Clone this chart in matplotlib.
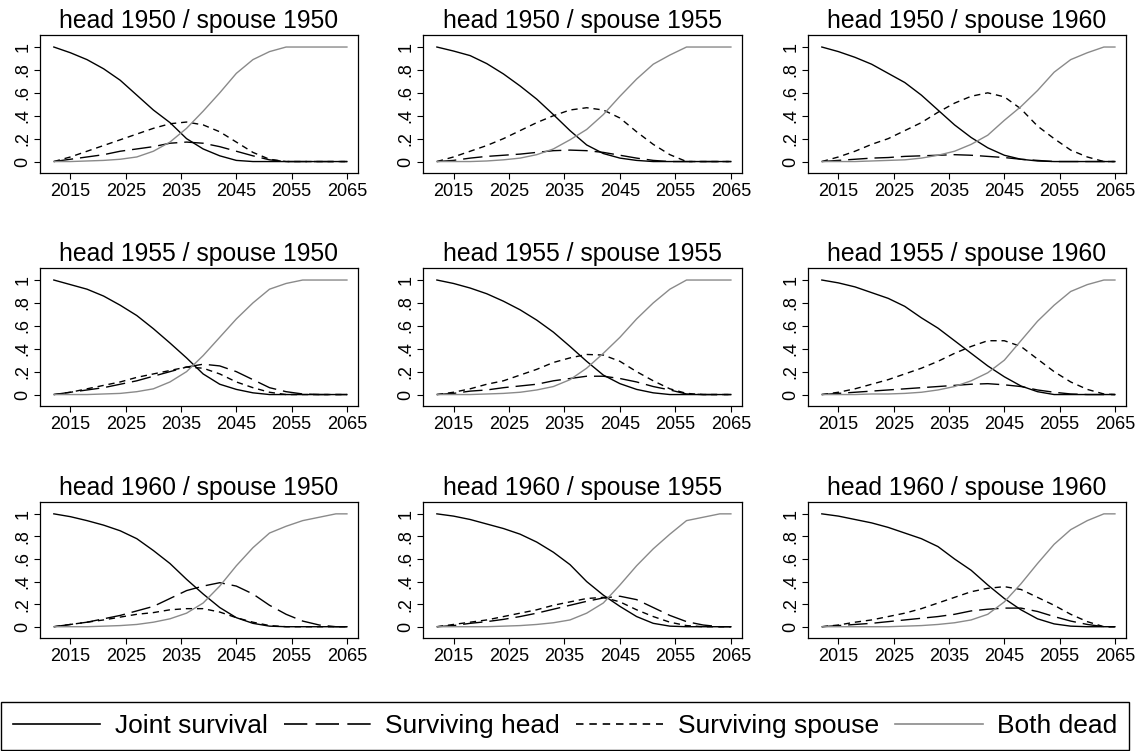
import matplotlib
matplotlib.use("Agg")
import matplotlib.pyplot as plt
from matplotlib.lines import Line2D

plt.rcParams['font.family'] = ['Liberation Sans', 'DejaVu Sans']

years = [2012, 2015, 2018, 2021, 2024, 2027, 2030, 2033, 2036, 2039,
         2042, 2045, 2048, 2051, 2054, 2057, 2060, 2063, 2065]

# head 1950 / spouse 1950
joint_50_50 = [1.0, 0.95, 0.89, 0.81, 0.71, 0.58, 0.45, 0.34, 0.20, 0.11, 0.05, 0.01, 0, 0, 0, 0, 0, 0, 0]
head_50_50 = [0, 0.02, 0.04, 0.06, 0.09, 0.11, 0.13, 0.16, 0.17, 0.16, 0.13, 0.09, 0.05, 0.015, 0, 0, 0, 0, 0]
spouse_50_50 = [0, 0.04, 0.09, 0.14, 0.19, 0.24, 0.29, 0.33, 0.345, 0.32, 0.26, 0.17, 0.08, 0.02, 0, 0, 0, 0, 0]
dead_50_50 = [0, 0, 0.005, 0.01, 0.02, 0.04, 0.09, 0.17, 0.29, 0.44, 0.60, 0.77, 0.89, 0.96, 1, 1, 1, 1, 1]

# head 1950 / spouse 1955
joint_50_55 = [1, 0.965, 0.925, 0.855, 0.765, 0.66, 0.545, 0.41, 0.27, 0.145, 0.07, 0.03, 0.01, 0, 0, 0, 0, 0, 0]
head_50_55 = [0, 0.01, 0.03, 0.045, 0.055, 0.065, 0.08, 0.095, 0.10, 0.095, 0.08, 0.055, 0.03, 0.01, 0, 0, 0, 0, 0]
spouse_50_55 = [0, 0.04, 0.09, 0.14, 0.20, 0.27, 0.34, 0.40, 0.45, 0.47, 0.45, 0.38, 0.26, 0.15, 0.06, 0, 0, 0, 0]
dead_50_55 = [0, 0, 0, 0.005, 0.015, 0.03, 0.06, 0.11, 0.19, 0.28, 0.41, 0.57, 0.72, 0.85, 0.93, 1, 1, 1, 1]

# head 1950 / spouse 1960
joint_50_60 = [1, 0.96, 0.91, 0.85, 0.77, 0.69, 0.58, 0.45, 0.32, 0.21, 0.12, 0.055, 0.02, 0.005, 0, 0, 0, 0, 0]
head_50_60 = [0, 0.01, 0.02, 0.03, 0.035, 0.045, 0.05, 0.055, 0.06, 0.055, 0.045, 0.035, 0.02, 0.01, 0, 0, 0, 0, 0]
spouse_50_60 = [0, 0.04, 0.09, 0.15, 0.20, 0.27, 0.34, 0.43, 0.51, 0.57, 0.60, 0.565, 0.46, 0.31, 0.20, 0.10, 0.04, 0, 0]
dead_50_60 = [0, 0, 0, 0.005, 0.01, 0.015, 0.03, 0.055, 0.09, 0.15, 0.23, 0.36, 0.48, 0.62, 0.78, 0.89, 0.95, 1, 1]

# head 1955 / spouse 1950
joint_55_50 = [1, 0.96, 0.92, 0.86, 0.78, 0.69, 0.575, 0.45, 0.32, 0.18, 0.09, 0.045, 0.015, 0, 0, 0, 0, 0, 0]
head_55_50 = [0, 0.02, 0.04, 0.06, 0.09, 0.12, 0.16, 0.20, 0.24, 0.265, 0.25, 0.20, 0.13, 0.06, 0.025, 0.005, 0, 0, 0]
spouse_55_50 = [0, 0.02, 0.05, 0.08, 0.11, 0.15, 0.18, 0.21, 0.24, 0.23, 0.18, 0.11, 0.06, 0.02, 0, 0, 0, 0, 0]
dead_55_50 = [0, 0, 0, 0.005, 0.01, 0.025, 0.05, 0.11, 0.20, 0.34, 0.50, 0.66, 0.80, 0.92, 0.97, 1, 1, 1, 1]

# head 1955 / spouse 1955
joint_55_55 = [1, 0.97, 0.93, 0.88, 0.815, 0.74, 0.65, 0.545, 0.42, 0.29, 0.17, 0.095, 0.045, 0.015, 0, 0, 0, 0, 0]
head_55_55 = [0, 0.01, 0.03, 0.04, 0.06, 0.075, 0.09, 0.12, 0.14, 0.16, 0.16, 0.14, 0.11, 0.07, 0.04, 0.005, 0, 0, 0]
spouse_55_55 = [0, 0.02, 0.05, 0.09, 0.12, 0.17, 0.22, 0.28, 0.32, 0.35, 0.345, 0.29, 0.20, 0.12, 0.05, 0.01, 0, 0, 0]
dead_55_55 = [0, 0, 0, 0.005, 0.01, 0.02, 0.04, 0.07, 0.13, 0.23, 0.36, 0.50, 0.66, 0.80, 0.92, 1, 1, 1, 1]

# head 1955 / spouse 1960
joint_55_60 = [1, 0.975, 0.94, 0.89, 0.84, 0.77, 0.67, 0.58, 0.47, 0.36, 0.25, 0.155, 0.075, 0.025, 0, 0, 0, 0, 0]
head_55_60 = [0, 0.01, 0.02, 0.03, 0.04, 0.05, 0.06, 0.07, 0.08, 0.09, 0.095, 0.085, 0.07, 0.04, 0.02, 0.005, 0, 0, 0]
spouse_55_60 = [0, 0.02, 0.05, 0.09, 0.13, 0.18, 0.23, 0.29, 0.36, 0.42, 0.47, 0.47, 0.42, 0.31, 0.20, 0.11, 0.045, 0.005, 0]
dead_55_60 = [0, 0, 0, 0.005, 0.005, 0.01, 0.02, 0.04, 0.07, 0.12, 0.19, 0.30, 0.47, 0.64, 0.78, 0.90, 0.96, 1, 1]

# head 1960 / spouse 1950
joint_60_50 = [1, 0.975, 0.94, 0.90, 0.85, 0.78, 0.675, 0.56, 0.42, 0.29, 0.17, 0.08, 0.03, 0.005, 0, 0, 0, 0, 0]
head_60_50 = [0, 0.02, 0.04, 0.07, 0.10, 0.14, 0.18, 0.25, 0.32, 0.36, 0.39, 0.36, 0.29, 0.19, 0.11, 0.05, 0.015, 0, 0]
spouse_60_50 = [0, 0.02, 0.04, 0.06, 0.085, 0.11, 0.125, 0.15, 0.16, 0.16, 0.13, 0.08, 0.04, 0.01, 0, 0, 0, 0, 0]
dead_60_50 = [0, 0, 0, 0.005, 0.01, 0.02, 0.04, 0.07, 0.12, 0.21, 0.36, 0.54, 0.70, 0.83, 0.89, 0.94, 0.97, 1, 1]

# head 1960 / spouse 1955
joint_60_55 = [1, 0.98, 0.95, 0.91, 0.87, 0.82, 0.75, 0.66, 0.55, 0.40, 0.28, 0.18, 0.09, 0.03, 0.005, 0, 0, 0, 0]
head_60_55 = [0, 0.01, 0.03, 0.045, 0.065, 0.09, 0.12, 0.155, 0.19, 0.225, 0.255, 0.27, 0.24, 0.17, 0.10, 0.045, 0.015, 0, 0]
spouse_60_55 = [0, 0.02, 0.04, 0.06, 0.09, 0.12, 0.15, 0.19, 0.22, 0.25, 0.26, 0.22, 0.15, 0.09, 0.04, 0.01, 0, 0, 0]
dead_60_55 = [0, 0, 0, 0, 0.005, 0.01, 0.02, 0.035, 0.06, 0.12, 0.21, 0.37, 0.54, 0.69, 0.82, 0.94, 0.97, 1, 1]

# head 1960 / spouse 1960
joint_60_60 = [1, 0.98, 0.95, 0.92, 0.88, 0.83, 0.78, 0.71, 0.60, 0.50, 0.37, 0.25, 0.15, 0.07, 0.025, 0.005, 0, 0, 0]
head_60_60 = [0, 0.01, 0.02, 0.03, 0.045, 0.06, 0.075, 0.09, 0.11, 0.14, 0.155, 0.165, 0.165, 0.135, 0.09, 0.05, 0.02, 0, 0]
spouse_60_60 = [0, 0.015, 0.04, 0.06, 0.09, 0.12, 0.16, 0.21, 0.26, 0.31, 0.34, 0.355, 0.33, 0.26, 0.19, 0.11, 0.045, 0, 0]
dead_60_60 = [0, 0, 0, 0, 0, 0.005, 0.01, 0.02, 0.035, 0.06, 0.11, 0.22, 0.38, 0.56, 0.73, 0.86, 0.94, 1, 1]

panels = [
    ("head 1950 / spouse 1950", joint_50_50, head_50_50, spouse_50_50, dead_50_50),
    ("head 1950 / spouse 1955", joint_50_55, head_50_55, spouse_50_55, dead_50_55),
    ("head 1950 / spouse 1960", joint_50_60, head_50_60, spouse_50_60, dead_50_60),
    ("head 1955 / spouse 1950", joint_55_50, head_55_50, spouse_55_50, dead_55_50),
    ("head 1955 / spouse 1955", joint_55_55, head_55_55, spouse_55_55, dead_55_55),
    ("head 1955 / spouse 1960", joint_55_60, head_55_60, spouse_55_60, dead_55_60),
    ("head 1960 / spouse 1950", joint_60_50, head_60_50, spouse_60_50, dead_60_50),
    ("head 1960 / spouse 1955", joint_60_55, head_60_55, spouse_60_55, dead_60_55),
    ("head 1960 / spouse 1960", joint_60_60, head_60_60, spouse_60_60, dead_60_60),
]

xticks = [2015, 2025, 2035, 2045, 2055, 2065]
yticks = [0, 0.2, 0.4, 0.6, 0.8, 1]
ytick_labels = ["0", ".2", ".4", ".6", ".8", "1"]

styles = {
    "joint": dict(color="black", linestyle="-"),
    "head": dict(color="black", linestyle=(0, (14, 5))),
    "spouse": dict(color="black", linestyle=(0, (4.5, 3.5))),
    "dead": dict(color="#8a8a8a", linestyle="-"),
}
lw = 1.0

W, H = 1141, 751
fig = plt.figure(figsize=(W / 100, H / 100), dpi=100)

cols = [(40, 358), (423, 742), (808, 1126)]
rows = [(35, 173), (268, 406), (502, 638)]

for i, (title, joint, head, spouse, dead) in enumerate(panels):
    x0, x1 = cols[i % 3]
    y0, y1 = rows[i // 3]
    ax = fig.add_axes([x0 / W, 1 - y1 / H, (x1 - x0) / W, (y1 - y0) / H])
    ax.plot(years, joint, lw=lw, **styles["joint"])
    ax.plot(years, head, lw=lw, **styles["head"])
    ax.plot(years, spouse, lw=lw, **styles["spouse"])
    ax.plot(years, dead, lw=lw, **styles["dead"])
    ax.set_xlim(2009.5, 2067)
    ax.set_ylim(-0.1, 1.105)
    ax.set_xticks(xticks)
    ax.set_yticks(yticks)
    ax.set_yticklabels(ytick_labels, rotation=90, va="center")
    ax.tick_params(labelsize=13, length=4, width=0.8, pad=3)
    ax.tick_params(axis="y", pad=2)
    for s in ax.spines.values():
        s.set_linewidth(0.9)
    ax.set_title(title, fontsize=17.8, pad=5)

handles = [
    Line2D([], [], lw=1.2, **styles["joint"]),
    Line2D([], [], lw=1.2, **styles["head"]),
    Line2D([], [], lw=1.2, **styles["spouse"]),
    Line2D([], [], lw=1.2, **styles["dead"]),
]
labels = ["Joint survival", "Surviving head", "Surviving spouse", "Both dead"]
leg = fig.legend(handles, labels, loc="lower left", ncol=4, mode="expand",
                 bbox_to_anchor=(0.001, 0.001, 1128 / W, 47 / H), borderaxespad=0,
                 fontsize=19, handlelength=3.3, handletextpad=0.55, columnspacing=0.6,
                 borderpad=0.45, fancybox=False, framealpha=1, edgecolor="black")
leg.get_frame().set_linewidth(1.0)

fig.savefig("out.png", dpi=100)
